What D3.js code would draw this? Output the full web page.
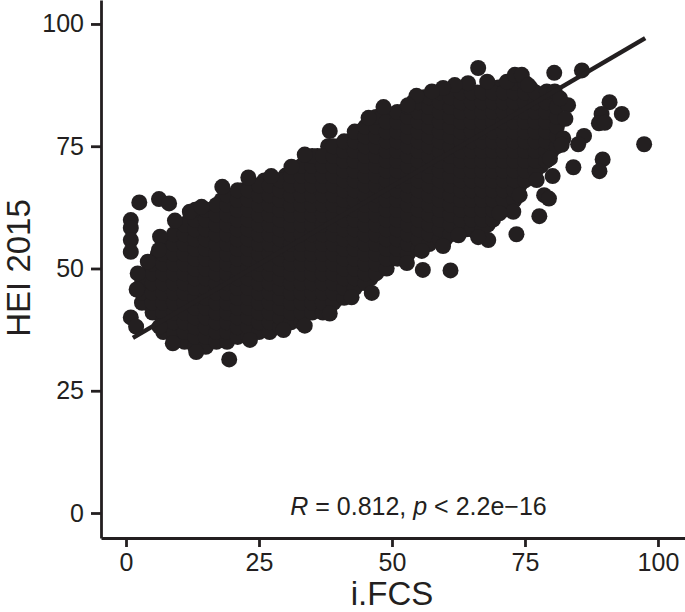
<!DOCTYPE html>
<html>
<head>
<meta charset="utf-8">
<script src="https://cdnjs.cloudflare.com/ajax/libs/d3/7.8.5/d3.min.js"></script>
<style>
html,body{margin:0;padding:0;background:#fff}
svg{display:block}
text{font-family:"Liberation Sans",Arial,sans-serif;fill:#231f20}
</style>
</head>
<body>
<svg id="c" width="685" height="612"></svg>
<script>
const xTicks = [0, 25, 50, 75, 100];
const yTicks = [0, 25, 50, 75, 100];
const xTitle = "i.FCS";
const yTitle = "HEI 2015";
const fitLine = [[1.3, 35.8], [97.6, 97.1]];

// points on the visible edge of the cloud and isolated points
const edgePoints = [
[2.5,63.5],[6.2,64.2],[8.1,63.3],[0.9,59.9],[0.9,58.3],[0.9,55.8],[0.9,53.4],[4.1,51.4],[2.2,49],[2,45.7],[0.9,40],[1.9,38.1],
[9.2,59.8],[6.4,56.5],[6.2,53.8],[12,61.6],[14.2,62.6],[18.1,66.7],[23,68.6],[27.3,68.9],[31.1,70.8],[33.6,73.3],[38.3,78.1],
[45.6,80.8],[48.4,83],[19.4,31.4],[13.2,32.9],[8.8,34.7],[6.3,38.1],[23.3,35.4],[29.6,37.4],[33.6,38.3],[38.3,40.8],[42.4,44.1],[46.2,45],
[66.2,91],[80.5,90],[85.7,90.5],[90.9,84],[89.4,81.6],[88.9,79.7],[90,79.8],[93.2,81.6],[97.4,75.4],[89.6,72.3],[89,69.9],[84.1,70.7],
[86.1,77.1],[85,75.4],[83.1,83.4],[82.6,80.6],[82.2,76.6],[81.9,75.3],[79.7,72.5],[80.2,68.9],[77.2,68.1],[78.6,65],[79.5,64.3],
[74,65],[72.8,61.6],[70.2,61.3],[77.7,60.7],[73.4,57],[68.1,55.8],[66.2,56.4],[62.5,56.8],[59.6,54.6],[55.6,53.6],[61,49.6],[55.8,49.7],[52.8,51.1],
[64.3,87.9],[61.8,87.5],[59.6,86.9],[57.5,86.2],[54.6,85.3],[53,83.4],[67.9,88.2],[71.6,88.2],[73.1,89.6],[74.4,89.6],[75.6,87.5],[79.1,86.2],[80.6,86.2],[81.6,84.8]
];

// body of the cloud, read column by column: [i.FCS, [HEI values]]
const cloudColumns = [
[4,[43,46,49]],
[6,[41,44,47,50,53]],
[8,[38,41,44,47,50,53,55]],
[10,[37,40,43,46,49,52,55,58]],
[12,[36,39,42,45,48,51,54,57,60]],
[14,[35,38,41,44,47,50,53,56,59,61]],
[16,[36,39,42,45,48,51,54,57,60,62]],
[18,[36,39,42,45,48,51,54,57,60,63,64]],
[20,[37,40,43,46,49,52,55,58,61,64]],
[22,[37,40,43,46,49,52,55,58,61,64,66]],
[24,[38,41,44,47,50,53,56,59,62,65,67]],
[26,[38,41,44,47,50,53,56,59,62,65,68]],
[28,[39,42,45,48,51,54,57,60,63,66,68]],
[30,[40,43,46,49,52,55,58,61,64,67,69]],
[32,[40,43,46,49,52,55,58,61,64,67,70]],
[34,[41,44,47,50,53,56,59,62,65,68,71,72]],
[36,[42,45,48,51,54,57,60,63,66,69,72,73]],
[38,[42,45,48,51,54,57,60,63,66,69,72,75]],
[40,[44,47,50,53,56,59,62,65,68,71,74,75]],
[42,[46,49,52,55,58,61,64,67,70,73,76]],
[44,[47,50,53,56,59,62,65,68,71,74,77,78]],
[46,[48,51,54,57,60,63,66,69,72,75,78,79]],
[48,[50,53,56,59,62,65,68,71,74,77,80,81]],
[50,[52,55,58,61,64,67,70,73,76,79,81]],
[52,[53,56,59,62,65,68,71,74,77,80,82]],
[54,[54,57,60,63,66,69,72,75,78,81,84]],
[56,[55,58,61,64,67,70,73,76,79,82,85]],
[58,[56,59,62,65,68,71,74,77,80,83,85]],
[60,[56,59,62,65,68,71,74,77,80,83,86]],
[62,[58,61,64,67,70,73,76,79,82,85,86]],
[64,[58,61,64,67,70,73,76,79,82,85,87]],
[66,[59,62,65,68,71,74,77,80,83,86]],
[68,[59,62,65,68,71,74,77,80,83,86,87]],
[70,[63,66,69,72,75,78,81,84,87]],
[72,[63,66,69,72,75,78,81,84,87]],
[74,[67,70,73,76,79,82,85,88]],
[76,[70,73,76,79,82,85,87]],
[78,[71,74,77,80,83,85]],
[80,[74,77,80,83,85]],
[3,[43,45,47]],
[5,[41,43,45,47,49,51]],
[7,[37,39,41,43,45,47,49,51,53,55]],
[9,[35,37,39,41,43,45,47,49,51,53,55,57]],
[11,[35,37,39,41,43,45,47,49,51,53,55,57,59]],
[13,[34,36,38,40,42,44,46,48,50,52,54,56,58,60,62]],
[15,[34,36,38,40,42,44,46,48,50,52,54,56,58,60,62]],
[17,[35,37,39,41,43,45,47,49,51,53,55,57,59,61,63]],
[19,[35,37,39,41,43,45,47,49,51,53,55,57,59,61,63,65]],
[21,[36,38,40,42,44,46,48,50,52,54,56,58,60,62,64,66]],
[23,[36,38,40,42,44,46,48,50,52,54,56,58,60,62,64,66]],
[25,[37,39,41,43,45,47,49,51,53,55,57,59,61,63,65,67]],
[27,[37,39,41,43,45,47,49,51,53,55,57,59,61,63,65,67]],
[29,[38,40,42,44,46,48,50,52,54,56,58,60,62,64,66,68]],
[31,[39,41,43,45,47,49,51,53,55,57,59,61,63,65,67,69]],
[33,[39,41,43,45,47,49,51,53,55,57,59,61,63,65,67,69,71]],
[35,[41,43,45,47,49,51,53,55,57,59,61,63,65,67,69,71,73]],
[37,[41,43,45,47,49,51,53,55,57,59,61,63,65,67,69,71,73]],
[39,[43,45,47,49,51,53,55,57,59,61,63,65,67,69,71,73,75]],
[41,[44,46,48,50,52,54,56,58,60,62,64,66,68,70,72,74,76]],
[43,[46,48,50,52,54,56,58,60,62,64,66,68,70,72,74,76,78]],
[45,[47,49,51,53,55,57,59,61,63,65,67,69,71,73,75,77,79]],
[47,[49,51,53,55,57,59,61,63,65,67,69,71,73,75,77,79,81]],
[49,[50,52,54,56,58,60,62,64,66,68,70,72,74,76,78,80]],
[51,[52,54,56,58,60,62,64,66,68,70,72,74,76,78,80,82]],
[53,[53,55,57,59,61,63,65,67,69,71,73,75,77,79,81,83]],
[55,[54,56,58,60,62,64,66,68,70,72,74,76,78,80,82,84]],
[57,[55,57,59,61,63,65,67,69,71,73,75,77,79,81,83,85]],
[59,[56,58,60,62,64,66,68,70,72,74,76,78,80,82,84,86]],
[61,[57,59,61,63,65,67,69,71,73,75,77,79,81,83,85]],
[63,[58,60,62,64,66,68,70,72,74,76,78,80,82,84,86]],
[65,[58,60,62,64,66,68,70,72,74,76,78,80,82,84,86]],
[67,[58,60,62,64,66,68,70,72,74,76,78,80,82,84,86]],
[69,[60,62,64,66,68,70,72,74,76,78,80,82,84,86]],
[71,[62,64,66,68,70,72,74,76,78,80,82,84,86]],
[73,[64,66,68,70,72,74,76,78,80,82,84,86,88]],
[75,[68,70,72,74,76,78,80,82,84,86,88]],
[77,[70,72,74,76,78,80,82,84,86]],
[79,[72,74,76,78,80,82,84]],
[81,[75,77,79,81,83]]
];

const cloudPoints = cloudColumns.flatMap(([x, ys]) => ys.map(y => [x, y]));
const points = cloudPoints.concat(edgePoints);

const ink = "#231f20";
const svg = d3.select("#c");
const x = d3.scaleLinear().domain([-4.7, 105.08]).range([101, 685]);
const y = d3.scaleLinear().domain([-5.11, 104.9]).range([538, 0]);

svg.append("g").selectAll("circle").data(points).join("circle")
  .attr("cx", d => x(d[0])).attr("cy", d => y(d[1])).attr("r", 8).attr("fill", ink);

svg.append("path").datum(fitLine)
  .attr("d", d3.line().x(d => x(d[0])).y(d => y(d[1])))
  .attr("fill", "none").attr("stroke", ink).attr("stroke-width", 4.5);

const gx = svg.append("g").attr("transform", "translate(0,538)")
  .call(d3.axisBottom(x).tickValues(xTicks).tickSize(9).tickSizeOuter(0).tickPadding(6));
const gy = svg.append("g").attr("transform", "translate(101,0)")
  .call(d3.axisLeft(y).tickValues(yTicks).tickSize(10).tickSizeOuter(0).tickPadding(7));
[gx, gy].forEach(g => {
  g.select(".domain").attr("stroke", ink).attr("stroke-width", 2.8);
  g.selectAll(".tick line").attr("stroke", ink).attr("stroke-width", 2.8);
  g.selectAll(".tick text").attr("font-size", 25).attr("font-family", '"Liberation Sans",Arial,sans-serif').attr("fill", ink);
});

svg.append("text").attr("x", 392).attr("y", 605).attr("text-anchor", "middle").attr("font-size", 33).text(xTitle);
svg.append("text").attr("transform", "translate(30,268) rotate(-90)").attr("text-anchor", "middle").attr("font-size", 33).text(yTitle);

const ann = svg.append("text").attr("x", 418.5).attr("y", 515).attr("text-anchor", "middle").attr("font-size", 25);
ann.append("tspan").attr("font-style", "italic").text("R");
ann.append("tspan").text(" = 0.812, ");
ann.append("tspan").attr("font-style", "italic").text("p");
ann.append("tspan").text(" < 2.2e\u221216");
</script>
</body>
</html>
